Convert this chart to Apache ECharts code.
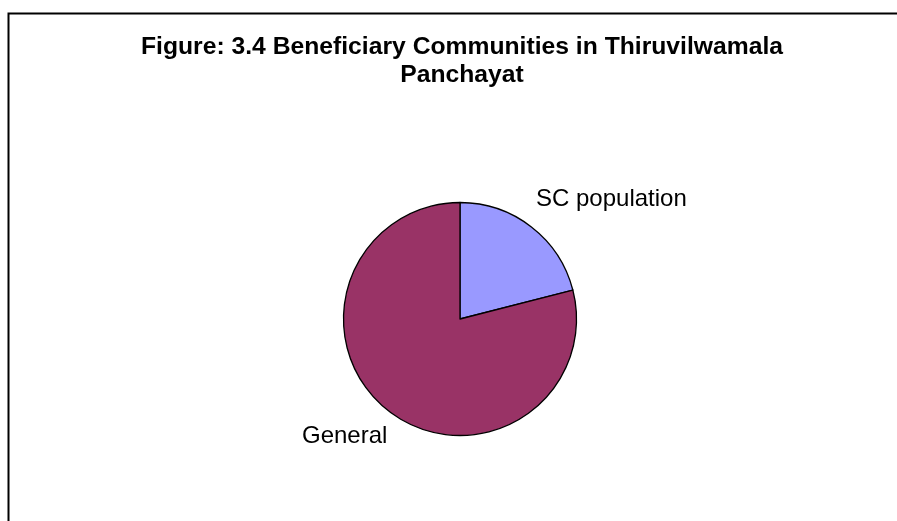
<!DOCTYPE html>
<html>
<head>
<meta charset="utf-8">
<script src="https://cdn.jsdelivr.net/npm/echarts@6/dist/echarts.min.js"></script>
<style>
html,body{margin:0;padding:0;background:#fff;}
#chart{width:897px;height:521px;}
</style>
</head>
<body>
<div id="chart"></div>
<script>
const titleText = 'Figure: 3.4 Beneficiary Communities in Thiruvilwamala\nPanchayat';
const categories = ['SC population', 'General'];
const values = [21, 79];
const colors = ['#9999FF', '#993366'];

const chart = echarts.init(document.getElementById('chart'));
chart.setOption({
  backgroundColor: '#ffffff',
  animation: false,
  title: {
    text: titleText,
    left: 457,
    top: 28,
    textAlign: 'center',
    textStyle: {
      fontFamily: 'Liberation Sans, Arial, sans-serif',
      fontWeight: 'bold',
      fontSize: 24.7,
      lineHeight: 28,
      color: '#000'
    }
  },
  graphic: [{
    type: 'rect',
    shape: { x: 8.5, y: 13.5, width: 2000, height: 2000 },
    style: { fill: 'none', stroke: '#000', lineWidth: 2 },
    silent: true
  }],
  series: [{
    type: 'pie',
    center: [460, 319],
    radius: 116.5,
    startAngle: 90,
    clockwise: true,
    data: categories.map((c, i) => ({ name: c, value: values[i], itemStyle: { color: colors[i] } })),
    itemStyle: { borderColor: '#000', borderWidth: 1.3 },
    label: {
      show: true,
      position: 'outside',
      formatter: '{b}',
      fontFamily: 'Liberation Sans, Arial, sans-serif',
      fontSize: 24,
      color: '#000'
    },
    labelLine: { show: false },
    labelLayout: function (p) {
      if (p.dataIndex === 0) {
        return { x: 536, y: 199, align: 'left', verticalAlign: 'middle' };
      }
      return { x: 302, y: 436, align: 'left', verticalAlign: 'middle' };
    }
  }]
});
</script>
</body>
</html>
